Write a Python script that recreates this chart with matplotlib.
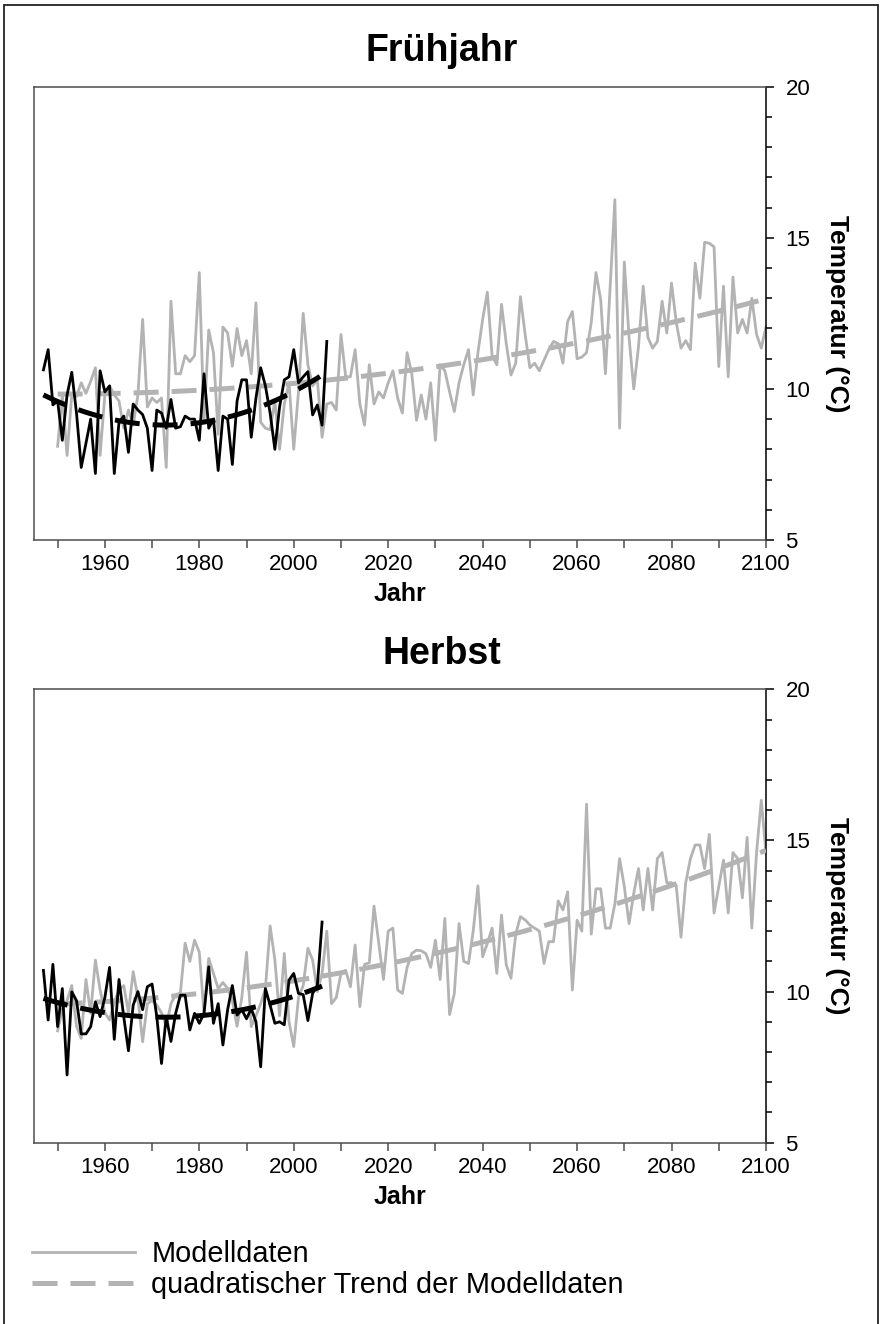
import numpy as np
import matplotlib.pyplot as plt
from matplotlib.lines import Line2D
from matplotlib.patches import Rectangle
from matplotlib.ticker import MultipleLocator

plt.rcParams['font.family'] = ['Liberation Sans', 'DejaVu Sans']

# years
model_years = np.arange(1950, 2101)
spring_obs_years = np.arange(1947, 2008)
autumn_obs_years = np.arange(1947, 2007)

# Fruehjahr - model data 1950-2100
spring_model = [
    8.1, 9.8, 7.8, 9.8, 9.75, 10.2, 9.85, 10.25, 10.7, 7.8,
    9.8, 10.1, 9.8, 9.6, 8.7, 9.3, 8.8, 9.8, 12.3, 9.4,
    9.7, 9.55, 9.7, 7.4, 12.9, 10.5, 10.5, 11.1, 10.9, 11.1,
    13.85, 8.9, 11.95, 11.2, 8.5, 12.05, 11.85, 10.75, 12.0, 11.1,
    11.6, 10.5, 12.85, 8.9, 8.7, 8.65, 9.6, 8.0, 9.5, 10.2,
    8.0, 9.9, 12.5, 10.8, 10.1, 10.3, 8.4, 9.5, 9.55, 9.3,
    11.8, 10.4, 10.4, 11.3, 9.5, 8.8, 10.8, 9.5, 9.9, 9.7,
    10.2, 10.6, 9.7, 9.2, 11.2, 10.5, 8.96, 9.8, 9.0, 10.2,
    8.3, 10.8, 10.6, 9.9, 9.25, 10.2, 10.8, 11.3, 9.8, 11.2,
    12.3, 13.2, 11.1, 10.8, 12.8, 11.5, 10.46, 10.85, 13.05, 11.8,
    10.7, 10.85, 10.6, 10.95, 11.3, 11.57, 11.5, 10.85, 12.23, 12.56,
    11.0, 11.05, 11.2, 12.2, 13.85, 12.95, 10.5, 13.4, 16.26, 8.7,
    14.2, 11.7, 10.0, 11.4, 13.4, 11.7, 11.35, 11.57, 12.9, 11.85,
    13.5, 12.2, 11.35, 11.6, 11.3, 14.16, 13.0, 14.85, 14.82, 14.7,
    10.74, 13.4, 10.4, 13.7, 11.85, 12.3, 11.85, 13.0, 11.8, 11.35,
    12.06,
]

# Fruehjahr - observations 1947-2007
spring_obs = [
    10.63, 11.3, 9.47,
    9.6, 8.3, 9.8, 10.55, 9.2, 7.4, 8.2, 9.0, 7.2, 10.6,
    9.9, 10.1, 7.2, 8.9, 9.1, 7.9, 9.5, 9.3, 9.15, 8.7,
    7.3, 9.3, 9.2, 8.7, 9.65, 8.7, 8.75, 9.1, 9.0, 9.0,
    8.3, 10.5, 8.7, 9.0, 7.3, 9.1, 9.0, 7.5, 9.6, 10.3,
    10.3, 8.4, 9.7, 10.7, 10.1, 9.2, 8.0, 9.4, 10.3, 10.4,
    11.3, 10.2, 10.4, 10.57, 9.14, 9.47, 8.8, 11.57,
]

# Herbst - model data 1950-2100
autumn_model = [
    8.7, 9.4, 9.7, 10.2, 8.85, 8.45, 10.4, 9.28, 11.04, 10.05,
    9.3, 9.06, 9.66, 10.05, 10.2, 9.3, 10.66, 9.8, 8.34, 9.6,
    9.7, 9.55, 9.3, 8.85, 9.6, 9.9, 9.95, 11.6, 11.0, 11.7,
    11.3, 9.3, 11.1, 10.6, 10.1, 10.3, 10.1, 9.7, 8.85, 9.8,
    11.3, 8.84, 9.2, 9.6, 10.1, 12.17, 11.05, 9.2, 11.26, 9.0,
    8.18, 9.8, 10.2, 11.43, 11.04, 10.0, 10.6, 12.0, 9.6, 9.8,
    10.6, 10.7, 10.16, 11.54, 9.5, 10.9, 10.95, 12.83, 11.6, 10.4,
    12.0, 12.1, 10.05, 9.94, 10.8, 11.26, 11.37, 11.35, 11.25, 10.8,
    11.7, 10.4, 12.42, 9.24, 9.94, 12.25, 11.0, 10.93, 12.0, 13.5,
    11.15, 11.6, 12.1, 10.6, 12.53, 10.88, 10.44, 11.9, 12.48, 12.37,
    12.2, 12.1, 12.0, 10.93, 11.65, 11.65, 13.0, 12.7, 13.3, 10.05,
    12.36, 12.0, 16.2, 11.9, 13.4, 13.4, 12.1, 12.1, 12.9, 14.4,
    13.47, 12.25, 13.25, 14.07, 12.7, 14.07, 12.7, 14.4, 14.6, 13.6,
    13.6, 13.5, 11.8, 13.6, 14.4, 14.85, 14.85, 14.07, 15.2, 12.6,
    13.47, 14.35, 12.6, 14.6, 14.4, 13.1, 15.1, 12.1, 14.6, 16.33,
    14.57,
]

# Herbst - observations 1947-2006
autumn_obs = [
    10.7, 9.06, 10.9,
    8.84, 10.1, 7.24, 9.99, 9.7, 8.6, 8.6, 8.84, 9.66, 9.17,
    9.8, 10.8, 8.42, 10.4, 9.17, 8.04, 9.55, 10.0, 9.4, 10.16,
    10.25, 9.17, 7.62, 9.17, 8.35, 9.28, 9.88, 9.88, 8.73, 9.28,
    8.95, 9.28, 10.82, 8.95, 9.6, 8.23, 9.4, 10.2, 9.22, 9.4,
    9.1, 9.44, 9.0, 7.51, 10.1, 9.55, 8.95, 9.0, 8.9, 10.38,
    10.6, 9.94, 9.9, 9.04, 9.94, 10.2, 12.3,
]

year_ticks = [1960, 1980, 2000, 2020, 2040, 2060, 2080, 2100]
temp_ticks = [5, 10, 15, 20]

GRAY = '#b3b3b3'
SPINE = '#4d4d4d'
DASH = (5, 2.6)

fig = plt.figure(figsize=(8.81, 13.24), dpi=100)


def draw_panel(ax, model, obs_years, obs):
    ax.plot(model_years, model, color=GRAY, lw=2.0, zorder=2)
    c = np.polyfit(model_years, model, 2)
    ax.plot(model_years, np.polyval(c, model_years), color=GRAY, lw=3.6,
            dashes=DASH, zorder=3)
    ax.plot(obs_years, obs, color='black', lw=2.0, zorder=4)
    c = np.polyfit(obs_years, obs, 2)
    ax.plot(obs_years, np.polyval(c, obs_years), color='black', lw=3.6,
            dashes=DASH, zorder=5)

    ax.set_xlim(1945, 2100)
    ax.set_ylim(5, 20)
    ax.set_xticks(year_ticks)
    ax.xaxis.set_minor_locator(MultipleLocator(10))
    ax.yaxis.tick_right()
    ax.yaxis.set_label_position('right')
    ax.set_yticks(temp_ticks)
    ax.yaxis.set_minor_locator(MultipleLocator(1))

    ax.tick_params(axis='x', which='both', direction='out', length=6,
                   width=1.1, color=SPINE, labelsize=16, pad=4)
    ax.tick_params(axis='y', which='major', direction='out', length=6,
                   width=1.1, color='black', labelsize=16, pad=8)
    ax.tick_params(axis='y', which='minor', direction='out', length=4.5,
                   width=1.1, color='black')
    for side in ['left', 'top', 'bottom']:
        ax.spines[side].set_color(SPINE)
        ax.spines[side].set_linewidth(1.1)
    ax.spines['right'].set_color('black')
    ax.spines['right'].set_linewidth(1.1)

    ax.set_xlabel('Jahr', fontsize=18, fontweight='bold', labelpad=5)
    ax.set_ylabel('Temperatur (°C)', fontsize=19, fontweight='bold',
                  rotation=270, labelpad=28)


ax1 = fig.add_axes([34 / 881, 1 - 540 / 1324, 732 / 881, 453.3 / 1324])
draw_panel(ax1, spring_model, spring_obs_years, spring_obs)
ax2 = fig.add_axes([34 / 881, 1 - 1142.7 / 1324, 732 / 881, 453.4 / 1324])
draw_panel(ax2, autumn_model, autumn_obs_years, autumn_obs)

fig.text(442 / 881, 1 - 61 / 1324, 'Frühjahr', ha='center', va='baseline',
         fontsize=27, fontweight='bold')
fig.text(442 / 881, 1 - 664 / 1324, 'Herbst', ha='center', va='baseline',
         fontsize=27, fontweight='bold')

handles = [Line2D([], [], color=GRAY, lw=2.0),
           Line2D([], [], color=GRAY, lw=3.6, dashes=DASH)]
fig.legend(handles, ['Modelldaten', 'quadratischer Trend der Modelldaten'],
           loc='upper left', bbox_to_anchor=(32 / 881, 1 - 1240 / 1324),
           frameon=False, fontsize=20.8, handlelength=3.55, handletextpad=0.58,
           labelspacing=0.12, borderpad=0, borderaxespad=0)

fig.add_artist(Rectangle((0.004, -0.05), 0.993, 1.05 - 0.004,
                         transform=fig.transFigure, fill=False,
                         edgecolor='#222222', lw=1.3))

fig.savefig('out.png', dpi=100)
